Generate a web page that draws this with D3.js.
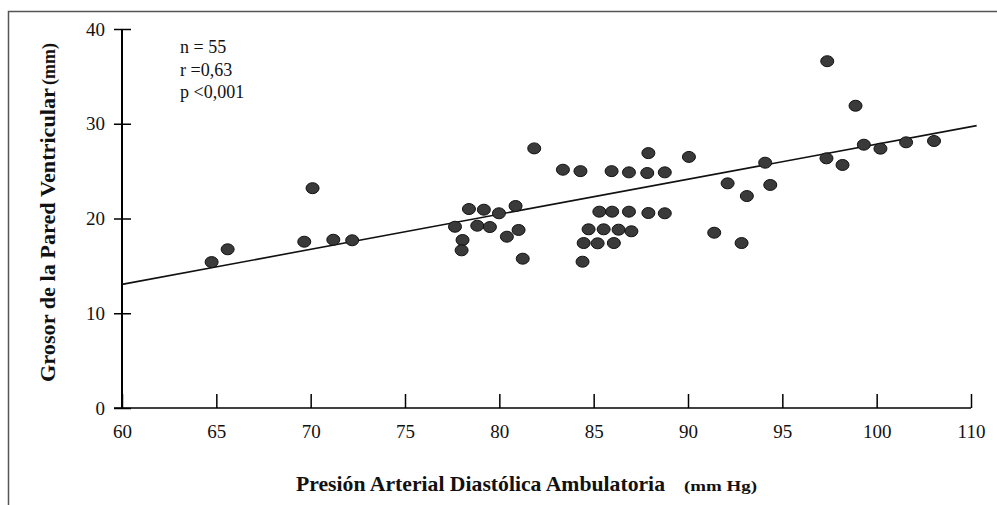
<!DOCTYPE html>
<html>
<head>
<meta charset="utf-8">
<script src="https://cdn.jsdelivr.net/npm/d3@7"></script>
<style>
  body { margin: 0; background: #fff; }
  svg text { font-family: "Liberation Serif", "Times New Roman", serif; fill: #111; }
</style>
</head>
<body>
<div id="chart"></div>
<script>
// presion arterial diastolica (mm Hg) vs grosor pared (mm)
var pad = [64.75, 65.6, 69.66, 70.1, 71.2, 72.2, 77.65, 78.05, 78.0, 78.39, 78.83, 79.18, 79.5, 79.98,
  80.4, 80.86, 81.02, 81.24, 81.85, 83.37, 84.3, 84.41, 84.47, 84.73, 85.21, 85.3, 85.53, 85.95,
  85.98, 86.07, 86.32, 86.87, 86.87, 87.0, 87.84, 87.9, 87.9, 88.77, 88.77, 90.05, 91.39, 92.1,
  92.84, 93.12, 94.09, 94.36, 97.34, 97.38, 98.19, 98.88, 99.32, 100.2, 101.56, 103.04];
var grosor = [15.4, 16.75, 17.55, 23.2, 17.76, 17.7, 19.13, 17.73, 16.64, 21.0, 19.24, 20.93, 19.1, 20.55,
  18.08, 21.32, 18.79, 15.76, 27.4, 25.15, 25.0, 15.44, 17.41, 18.86, 17.38, 20.72, 18.86, 25.0,
  20.72, 17.41, 18.82, 24.87, 20.72, 18.65, 24.8, 26.9, 20.58, 24.87, 20.55, 26.5, 18.5, 23.71,
  17.41, 22.37, 25.89, 23.54, 26.35, 36.6, 25.65, 31.9, 27.79, 27.37, 28.04, 28.18];

// recta de regresion (extremos)
var trendX = [60, 105.3];
var trendY = [13.05, 29.8];

var xTicks = [60, 65, 70, 75, 80, 85, 90, 95, 100, 105];
var xTickLabels = ["60", "65", "70", "75", "80", "85", "90", "95", "100", "110"];
var yTicks = [0, 10, 20, 30, 40];
var stats = ["n = 55", "r =0,63", "p <0,001"];

var W = 997, H = 505;
var svg = d3.select("#chart").append("svg")
  .attr("width", W)
  .attr("height", H);

// marco (solo arriba e izquierda)
svg.append("path")
  .attr("d", "M8.5,505 L8.5,11.5 L997,11.5")
  .attr("fill", "none")
  .attr("stroke", "#555")
  .attr("stroke-width", 1.5);

var x = d3.scaleLinear().domain([60, 105]).range([122, 971]);
var y = d3.scaleLinear().domain([0, 40]).range([408, 29]);

// eje y
var yAxis = svg.append("g")
  .attr("transform", "translate(" + x(60) + ",0)")
  .call(d3.axisLeft(y).tickValues(yTicks).tickSize(8).tickPadding(9));
yAxis.select(".domain").attr("d", "M0," + y(0) + "V" + y(40)).attr("stroke-width", 2);
yAxis.selectAll(".tick line").attr("x1", -8).attr("x2", 9).attr("stroke-width", 1.5);
yAxis.selectAll(".tick text")
  .style("font-size", "19px")
  .style("font-family", "Liberation Serif");

// eje x
var xAxis = svg.append("g")
  .attr("transform", "translate(0," + y(0) + ")")
  .call(d3.axisBottom(x).tickValues(xTicks).tickSize(-14).tickPadding(17)
    .tickFormat(function(d, i) { return xTickLabels[i]; }));
xAxis.select(".domain").attr("d", "M" + (x(60) - 8) + ",0H" + x(105)).attr("stroke-width", 1.5);
xAxis.selectAll(".tick line").attr("stroke-width", 1.5);
xAxis.selectAll(".tick text")
  .style("font-size", "19px")
  .style("font-family", "Liberation Serif");

// recta de regresion
svg.append("line")
  .attr("x1", x(trendX[0])).attr("y1", y(trendY[0]))
  .attr("x2", x(trendX[1])).attr("y2", y(trendY[1]))
  .attr("stroke", "#111")
  .attr("stroke-width", 1.6);

// puntos
var data = pad.map(function(d, i) { return { x: d, y: grosor[i] }; });
svg.selectAll(".pt")
  .data(data)
  .enter().append("ellipse")
  .attr("class", "pt")
  .attr("cx", function(d) { return x(d.x); })
  .attr("cy", function(d) { return y(d.y); })
  .attr("rx", 6.5)
  .attr("ry", 5.5)
  .attr("fill", "#3a3a3a")
  .attr("stroke", "#111")
  .attr("stroke-width", 1);

// estadisticos
svg.selectAll(".stat")
  .data(stats)
  .enter().append("text")
  .attr("class", "stat")
  .attr("x", 180)
  .attr("y", function(d, i) { return 53 + i * 22.5; })
  .style("font-size", "18px")
  .text(function(d) { return d; });

// titulos
svg.append("text")
  .attr("x", 296)
  .attr("y", 491)
  .attr("textLength", 369)
  .attr("lengthAdjust", "spacingAndGlyphs")
  .style("font-size", "21px")
  .style("font-weight", "bold")
  .text("Presión Arterial Diastólica Ambulatoria");
svg.append("text")
  .attr("x", 684)
  .attr("y", 491)
  .attr("textLength", 73)
  .attr("lengthAdjust", "spacingAndGlyphs")
  .style("font-size", "15px")
  .style("font-weight", "bold")
  .text("(mm Hg)");

svg.append("text")
  .attr("transform", "translate(55,382) rotate(-90)")
  .attr("textLength", 294)
  .attr("lengthAdjust", "spacingAndGlyphs")
  .style("font-size", "22px")
  .style("font-weight", "bold")
  .text("Grosor de la Pared Ventricular");
svg.append("text")
  .attr("transform", "translate(55,85) rotate(-90)")
  .attr("textLength", 42)
  .attr("lengthAdjust", "spacingAndGlyphs")
  .style("font-size", "19px")
  .style("font-weight", "bold")
  .text("(mm)");
</script>
</body>
</html>
